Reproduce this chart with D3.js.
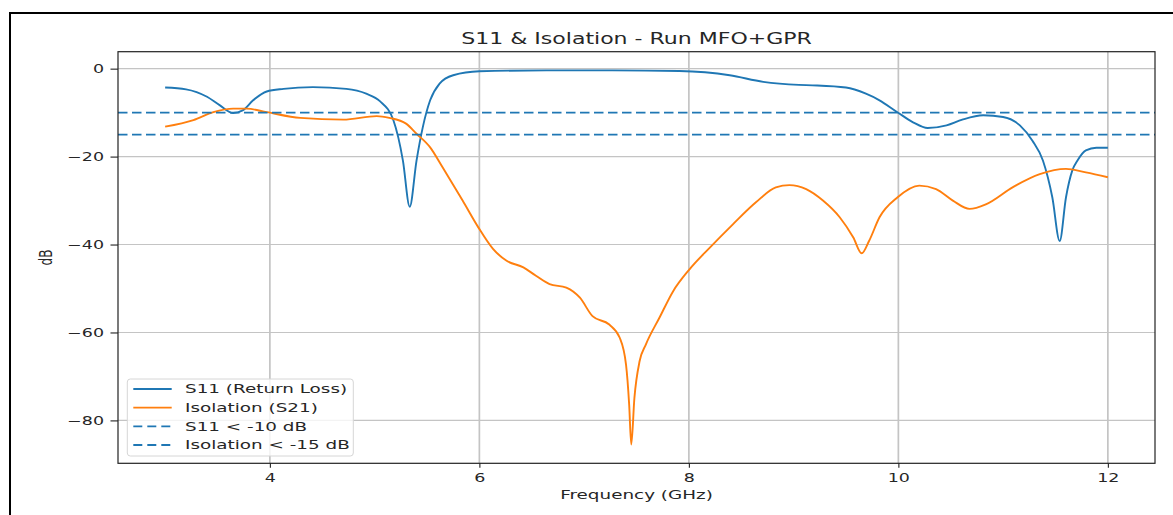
<!DOCTYPE html>
<html>
<head>
<meta charset="utf-8">
<script src="https://cdn.jsdelivr.net/npm/d3@7"></script>
<style>
  html, body { margin: 0; padding: 0; background: #fff; }
  svg { display: block; }
  text { font-family: "DejaVu Sans", sans-serif; fill: #262626; }
</style>
</head>
<body>
<svg id="chart" width="1173" height="515"></svg>
<script>
// ---- data ----
const s11Freq = [3.0, 3.2, 3.4, 3.52, 3.65, 3.74, 3.84, 3.97, 4.13, 4.41, 4.73, 4.92, 5.05, 5.18, 5.27, 5.335, 5.40, 5.46, 5.53, 5.62, 5.75, 6.0, 6.64, 7.27, 7.91, 8.39, 8.71, 9.05, 9.18, 9.50, 9.69, 9.82, 9.99, 10.14, 10.28, 10.46, 10.61, 10.81, 11.0, 11.16, 11.28, 11.38, 11.47, 11.54, 11.60, 11.66, 11.71, 11.79, 11.89, 12.0];
const s11Db = [-4.3, -4.7, -6.4, -8.3, -10.1, -9.5, -7.2, -5.2, -4.6, -4.2, -4.6, -5.7, -7.4, -11.8, -20.9, -31.4, -20.9, -13.3, -7.2, -3.4, -1.5, -0.6, -0.4, -0.4, -0.55, -1.5, -3.0, -3.7, -3.8, -4.3, -5.7, -7.2, -9.9, -12.2, -13.5, -12.9, -11.6, -10.6, -11.0, -12.9, -16.4, -20.9, -29.3, -39.2, -29.3, -23.2, -20.9, -18.6, -18.0, -18.0];

const isoFreq = [3.0, 3.27, 3.46, 3.65, 3.78, 3.97, 4.29, 4.70, 5.02, 5.14, 5.30, 5.40, 5.53, 5.65, 5.84, 5.99, 6.13, 6.26, 6.42, 6.54, 6.67, 6.83, 6.96, 7.08, 7.24, 7.34, 7.40, 7.43, 7.45, 7.48, 7.53, 7.59, 7.72, 7.85, 8.0, 8.20, 8.42, 8.64, 8.83, 8.96, 9.12, 9.28, 9.44, 9.57, 9.65, 9.72, 9.82, 9.99, 10.20, 10.36, 10.52, 10.68, 10.84, 11.09, 11.35, 11.60, 11.79, 12.0];
const isoDb = [-13.2, -11.7, -9.9, -9.1, -9.1, -9.9, -11.2, -11.6, -10.8, -11.2, -12.5, -14.8, -17.9, -22.5, -30.0, -36.1, -41.0, -43.7, -45.2, -47.1, -49.0, -49.8, -52.1, -56.3, -58.2, -61.2, -67.3, -76.4, -85.5, -74.9, -66.5, -62.7, -56.6, -50.6, -45.8, -40.7, -35.4, -30.4, -27.0, -26.5, -27.4, -30.0, -33.8, -38.4, -42.0, -39.2, -33.8, -29.3, -26.6, -27.4, -30.0, -31.9, -30.8, -27.0, -24.0, -22.8, -23.6, -24.7];

const thresholds = [-10, -15];
const xTicks = [4, 6, 8, 10, 12];
const yTicks = [0, -20, -40, -60, -80];
const legendLabels = ["S11 (Return Loss)", "Isolation (S21)", "S11 < -10 dB", "Isolation < -15 dB"];
const titleText = "S11 & Isolation - Run MFO+GPR";
const xLabelText = "Frequency (GHz)";
const yLabelText = "dB";

// ---- layout ----
const C0 = "#1f77b4", C1 = "#ff7f0e";
const SX = 1.53;           // horizontal stretch of the reference text
const plot = { left: 118, right: 1155, top: 51.7, bottom: 463.3 };

const svg = d3.select("#chart");

// outer frame
svg.append("rect").attr("x", 10).attr("y", 13).attr("width", 1300).attr("height", 700)
  .attr("fill", "none").attr("stroke", "#000").attr("stroke-width", 2);

// scales with matplotlib-like 5% margins
const xExt = d3.extent(s11Freq.concat(isoFreq));
const yExt = d3.extent(s11Db.concat(isoDb));
const xPad = (xExt[1] - xExt[0]) * 0.05, yPad = (yExt[1] - yExt[0]) * 0.05;
const x = d3.scaleLinear().domain([xExt[0] - xPad, xExt[1] + xPad]).range([plot.left, plot.right]);
const y = d3.scaleLinear().domain([yExt[0] - yPad, yExt[1] + yPad]).range([plot.bottom, plot.top]);

// grid
const grid = svg.append("g");
grid.selectAll("line.v").data(xTicks).join("line")
  .attr("x1", d => x(d)).attr("x2", d => x(d)).attr("y1", plot.top).attr("y2", plot.bottom)
  .attr("stroke", "#c4c4c4").attr("stroke-width", 1.7);
grid.selectAll("line.h").data(yTicks).join("line")
  .attr("x1", plot.left).attr("x2", plot.right).attr("y1", d => y(d)).attr("y2", d => y(d))
  .attr("stroke", "#c4c4c4").attr("stroke-width", 1.1);

// clip
svg.append("clipPath").attr("id", "clip").append("rect")
  .attr("x", plot.left).attr("y", plot.top).attr("width", plot.right - plot.left).attr("height", plot.bottom - plot.top);

const line = d3.line().x(d => x(d[0])).y(d => y(d[1])).curve(d3.curveMonotoneX);
const body = svg.append("g").attr("clip-path", "url(#clip)");

body.append("path").datum(d3.zip(s11Freq, s11Db)).attr("d", line)
  .attr("fill", "none").attr("stroke", C0).attr("stroke-width", 1.9);
body.append("path").datum(d3.zip(isoFreq, isoDb)).attr("d", line)
  .attr("fill", "none").attr("stroke", C1).attr("stroke-width", 1.9);

body.selectAll("line.thr").data(thresholds).join("line")
  .attr("x1", plot.left).attr("x2", plot.right).attr("y1", d => y(d)).attr("y2", d => y(d))
  .attr("stroke", C0).attr("stroke-width", 1.9).attr("stroke-dasharray", "9.5,4.5");

// frame of axes
svg.append("rect").attr("x", plot.left).attr("y", plot.top)
  .attr("width", plot.right - plot.left).attr("height", plot.bottom - plot.top)
  .attr("fill", "none").attr("stroke", "#222").attr("stroke-width", 1.2);

// axes
const xAxis = svg.append("g").attr("transform", `translate(0,${plot.bottom})`)
  .call(d3.axisBottom(x).tickValues(xTicks).tickFormat(d3.format("d")).tickSize(4.5));
const yAxis = svg.append("g").attr("transform", `translate(${plot.left},0)`)
  .call(d3.axisLeft(y).tickValues(yTicks).tickFormat(d => d < 0 ? "\u2212" + Math.abs(d) : String(d)).tickSize(7.5));
[xAxis, yAxis].forEach(a => {
  a.select(".domain").remove();
  a.selectAll(".tick line").attr("stroke", "#222").attr("stroke-width", 1.1);
  a.selectAll(".tick text").attr("font-family", "DejaVu Sans").attr("font-size", 11.4).attr("fill", "#262626");
});
xAxis.selectAll(".tick text").attr("x", 0).attr("y", 0).attr("dy", 0)
  .attr("transform", `translate(0,18.4) scale(${SX},1)`);
yAxis.selectAll(".tick text").attr("x", 0).attr("y", 0).attr("dy", "0.33em")
  .attr("transform", `translate(-14,0) scale(${SX},1)`);

// title & labels
function stretched(txt, tx, ty, size, sx, anchor, rot) {
  return svg.append("text").text(txt)
    .attr("transform", `translate(${tx},${ty}) scale(${sx},1)` + (rot ? ` rotate(${rot})` : ""))
    .attr("text-anchor", anchor).attr("font-size", size);
}
stretched(titleText, (plot.left + plot.right) / 2, 44.3, 16.2, 1.36, "middle");
stretched(xLabelText, (plot.left + plot.right) / 2, 498.7, 12, SX, "middle");
stretched(yLabelText, 51.5, (plot.top + plot.bottom) / 2, 12, 1.45, "middle", -90);

// legend
const lg = svg.append("g");
lg.append("rect").attr("x", 127.3).attr("y", 379).attr("width", 226).attr("height", 77)
  .attr("rx", 3).attr("fill", "#fff").attr("fill-opacity", 0.8)
  .attr("stroke", "#d6d6d6").attr("stroke-width", 1);
const legendItems = [
  { label: legendLabels[0], color: C0, dash: null },
  { label: legendLabels[1], color: C1, dash: null },
  { label: legendLabels[2], color: C0, dash: "9,5" },
  { label: legendLabels[3], color: C0, dash: "9,5" }
];
const rowY = d3.scaleLinear().domain([0, 3]).range([389, 445]);
legendItems.forEach((it, i) => {
  const cy = rowY(i);
  lg.append("line").attr("x1", 133.3).attr("x2", 171.7).attr("y1", cy).attr("y2", cy)
    .attr("stroke", it.color).attr("stroke-width", 1.9).attr("stroke-dasharray", it.dash);
  lg.append("text").text(it.label)
    .attr("transform", `translate(185,${cy + 4.4}) scale(${SX},1)`)
    .attr("font-size", 12);
});
</script>
</body>
</html>
